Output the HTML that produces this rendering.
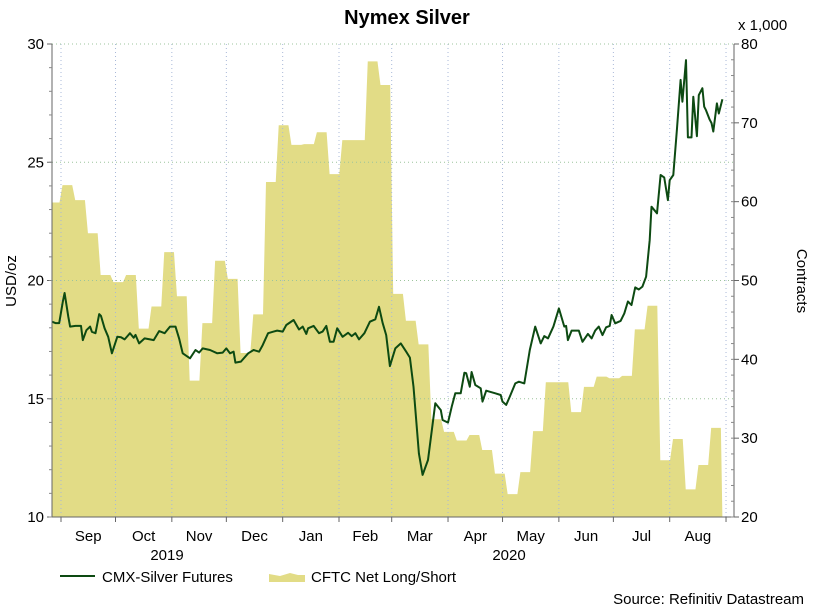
<!DOCTYPE html>
<html><head><meta charset="utf-8"><style>
body{margin:0;background:#fff;}
svg{display:block;font-family:"Liberation Sans",Arial,sans-serif;}
</style></head><body>
<svg id="chart" width="814" height="608" viewBox="0 0 814 608">
<text x="407" y="24" font-size="20" font-weight="bold" text-anchor="middle">Nymex Silver</text>
<text x="738" y="30" font-size="15">x 1,000</text>
<text transform="translate(16,281) rotate(-90)" font-size="15" text-anchor="middle">USD/oz</text>
<text transform="translate(797,281) rotate(90)" font-size="15" text-anchor="middle">Contracts</text>
<g id="plot"></g>
<g>
<line x1="60" y1="576" x2="95" y2="576" stroke="#0d4a12" stroke-width="2"/>
<text x="102" y="582" font-size="15">CMX-Silver Futures</text>
<path d="M269,582 L269,574 L280,576 L290,573 L298,575 L305,575 L305,582 Z" fill="#e2dc86"/>
<text x="311" y="582" font-size="15">CFTC Net Long/Short</text>
</g>
<text x="804" y="604" font-size="15" text-anchor="end">Source: Refinitiv Datastream</text>
</svg>
<script>
// days offset from 2019-09-01
const monthLabels = ["Sep","Oct","Nov","Dec","Jan","Feb","Mar","Apr","May","Jun","Jul","Aug"];
const monthStarts = [0,30,61,91,122,153,182,213,243,274,304,335,366];
const leftTicks = [10,15,20,25,30];
const rightTicks = [20,30,40,50,60,70,80];
const cftcStart = -5;
const cftcValues = [59.9,62.1,60.2,56.0,50.7,49.8,50.7,43.9,46.7,53.6,48.0,37.3,44.6,52.5,50.2,40.8,45.7,62.5,69.7,67.2,67.3,68.8,63.5,67.8,67.8,77.8,74.8,48.3,44.9,41.9,32.4,30.8,29.7,30.4,28.5,25.5,22.9,25.7,30.9,37.1,37.1,33.3,36.5,37.8,37.6,37.9,43.8,46.8,27.2,29.9,23.5,26.6,31.3];
const silverDays = [-5,-3,-1,1,2,4,5,8,11,12,14,16,17,19,21,22,24,26,28,31,33,35,38,40,41,43,46,49,51,54,57,60,63,65,67,71,74,76,78,82,86,89,91,93,95,96,99,103,106,109,111,114,117,119,122,124,128,131,133,135,136,139,142,144,146,148,150,152,155,158,160,162,164,167,170,173,175,177,179,181,184,187,190,192,194,197,199,202,206,209,210,213,215,217,220,222,223,225,226,228,231,232,234,239,242,243,245,247,250,252,255,258,261,264,266,268,271,274,277,278,279,281,285,287,290,292,294,296,298,300,302,303,305,308,310,312,314,316,318,320,322,324,325,328,330,332,334,335,337,339,341,342,344,345,347,348,350,351,353,354,355,357,358,359,361,362,364];
const silverValues = [18.26,18.2,18.2,19.1,19.47,18.47,18.05,18.08,18.08,17.48,17.9,18.05,17.83,17.77,18.58,18.5,17.98,17.62,16.92,17.62,17.6,17.51,17.77,17.58,17.7,17.34,17.55,17.51,17.48,17.86,17.77,18.05,18.05,17.55,16.92,16.71,17.06,16.95,17.13,17.06,16.92,16.95,17.13,16.92,16.99,16.53,16.57,16.92,17.06,16.99,17.27,17.77,17.84,17.88,17.84,18.12,18.33,17.93,18.05,17.74,17.98,18.08,17.77,17.84,18.08,17.41,17.41,17.98,17.62,17.79,17.65,17.77,17.51,17.77,18.26,18.36,18.89,18.21,17.69,16.38,17.13,17.34,16.99,16.74,15.51,12.69,11.78,12.41,14.81,14.52,14.1,13.99,14.66,15.23,15.23,16.1,16.08,15.51,16.13,15.58,15.44,14.88,15.34,15.23,15.16,14.88,14.74,15.09,15.65,15.72,15.65,17.06,18.05,17.34,17.65,17.55,18.05,18.82,18.05,18.08,17.48,17.88,17.88,17.41,17.74,17.55,17.88,18.05,17.69,18.02,18.08,18.54,18.19,18.29,18.61,19.11,18.96,19.71,19.62,19.74,20.16,21.71,23.12,22.84,24.46,24.36,23.4,24.24,24.46,26.43,28.48,27.56,29.32,26.05,26.05,27.77,26.1,27.84,28.13,27.35,27.2,26.8,26.66,26.3,27.49,27.06,27.66];

const NS="http://www.w3.org/2000/svg";
const L=52,R=734,T=44,B=517;
const xS=d=>61+d*1.817;
const yL=v=>B-(v-10)/20*(B-T);
const yR=v=>B-(v-20)/60*(B-T);
const plot=document.getElementById('plot');
function mk(tag,attrs){const e=document.createElementNS(NS,tag);for(const k in attrs)e.setAttribute(k,attrs[k]);plot.appendChild(e);return e;}

// area (slightly sloped step edges)
let d=`M${L},${B}`;
cftcValues.forEach((v,i)=>{const x0=i===0?L:xS((i-1)*7)+1.5;const x1=xS(i*7)-1.5;d+=` L${x0},${yR(v)} L${x1},${yR(v)}`;});
d+=` L${xS((cftcValues.length-1)*7)},${B} Z`;
const area=mk('path',{d:d,fill:'#e2dc86'});



// grid
[15,20,25].forEach(v=>{const g=mk('line',{x1:L,x2:R,y1:yL(v),y2:yL(v),stroke:'#9cc49c','stroke-dasharray':'1 3','stroke-width':1});

});
monthStarts.forEach(m=>{const g=mk('line',{x1:xS(m),x2:xS(m),y1:T,y2:B,stroke:'#a8b8d8','stroke-dasharray':'1 3','stroke-width':1});

});
const tg=mk('line',{x1:L,x2:R,y1:T,y2:T,stroke:'#9cc49c','stroke-dasharray':'1 3'});



// line
let p='';silverDays.forEach((dd,i)=>{p+=(i?' L':'M')+xS(dd).toFixed(1)+','+yL(silverValues[i]).toFixed(1);});
const ln=mk('path',{d:p,fill:'none',stroke:'#0d4a12','stroke-width':2,'stroke-linejoin':'round'});



// axes
[['left-axis',L,T,L,B],['right-axis',R,T,R,B],['bottom-axis',L,B,R,B]].forEach(a=>{const e=mk('line',{x1:a[1],y1:a[2],x2:a[3],y2:a[4],stroke:'#666','stroke-width':1});

});
leftTicks.forEach(v=>{const t=mk('text',{x:44,y:yL(v)+5,'font-size':15,'text-anchor':'end'});t.textContent=v;


const k=mk('line',{x1:L-5,x2:L,y1:yL(v),y2:yL(v),stroke:'#666'});

});
for(let v=10;v<30;v+=1){const k=mk('line',{x1:L-3,x2:L,y1:yL(v),y2:yL(v),stroke:'#888'});

}
rightTicks.forEach(v=>{const t=mk('text',{x:741,y:yR(v)+5,'font-size':15});t.textContent=v;


const k=mk('line',{x1:R,x2:R+5,y1:yR(v),y2:yR(v),stroke:'#666'});

});
for(let v=20;v<80;v+=2){const k=mk('line',{x1:R-3,x2:R,y1:yR(v),y2:yR(v),stroke:'#888'});

}
monthStarts.forEach(m=>{const k=mk('line',{x1:xS(m),x2:xS(m),y1:B,y2:B+5,stroke:'#666'});

});
monthLabels.forEach((lab,i)=>{const cx=(xS(monthStarts[i])+xS(monthStarts[i+1]))/2;const t=mk('text',{x:cx,y:541,'font-size':15,'text-anchor':'middle'});t.textContent=lab;

});
[['2019',167],['2020',509]].forEach(y=>{const t=mk('text',{x:y[1],y:560,'font-size':15,'text-anchor':'middle'});t.textContent=y[0];

});
</script>
</body></html>
